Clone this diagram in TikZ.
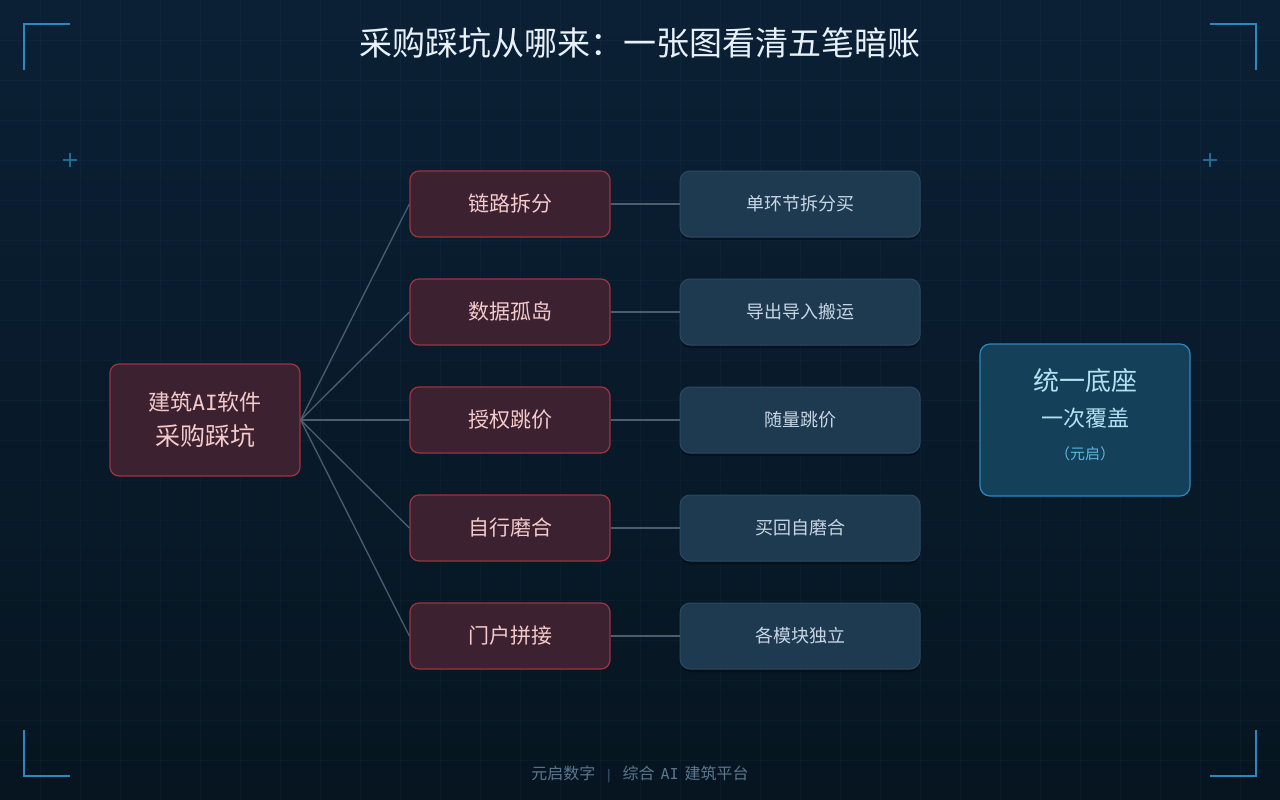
\documentclass[tikz,border=0pt]{standalone}
\usepackage{fontspec}
\setmainfont{Noto Sans CJK SC}
\newfontfamily\monoai{DejaVu Sans Mono}
\usetikzlibrary{shadows}
\definecolor{bgtop}{HTML}{0B2035}
\definecolor{bgbot}{HTML}{061520}
\definecolor{gridc}{HTML}{2A5A80}
\definecolor{cornerc}{HTML}{2A8AC0}
\definecolor{redfill}{HTML}{3C2130}
\definecolor{redline}{HTML}{A0333F}
\definecolor{redtext}{HTML}{F4CACA}
\definecolor{bluefill}{HTML}{1E3A50}
\definecolor{blueline}{HTML}{2B4A62}
\definecolor{bluetext}{HTML}{C8D6E4}
\definecolor{basefill}{HTML}{14405A}
\definecolor{basetext}{HTML}{B4E2F2}
\definecolor{basesub}{HTML}{5AB8E0}
\definecolor{linkc}{HTML}{4A5E70}
\definecolor{foot}{HTML}{5A7890}
\tikzset{
  px/.style={x=1pt,y=-1pt},
  rootbox/.style={draw=redline,fill=redfill,line width=1.2pt,rounded corners=9pt,minimum width=190pt,minimum height=112pt,inner sep=0pt},
  roottext/.style={text=redtext,inner sep=0pt},
  painbox/.style={draw=redline,fill=redfill,line width=1.2pt,rounded corners=9pt,minimum width=200pt,minimum height=66pt,text=redtext,font=\fontsize{21}{24}\selectfont,inner sep=0pt},
  effbox/.style={draw=blueline,fill=bluefill,line width=1pt,rounded corners=10pt,minimum width=240pt,minimum height=66pt,text=bluetext,font=\fontsize{18}{20}\selectfont,inner sep=0pt,drop shadow={shadow xshift=0pt,shadow yshift=-3pt,opacity=0.3,fill=black}},
  basebox/.style={draw=cornerc,fill=basefill,line width=1.2pt,rounded corners=10pt,minimum width=210pt,minimum height=152pt,inner sep=0pt},
  basetextstyle/.style={inner sep=0pt},
  link/.style={draw=linkc,line width=1.3pt},
  corner/.style={draw=cornerc,line width=2pt},
  cross/.style={draw=cornerc!70!bgtop,line width=1.5pt},
}
\begin{document}
\begin{tikzpicture}[px]
\useasboundingbox (0,0) rectangle (1280,800);
\shade[top color=bgtop,bottom color=bgbot] (0,0) rectangle (1280,800);
\foreach \i in {40,80,...,1240} \draw[gridc,opacity=0.09,line width=0.8pt] (\i,0) -- (\i,800);
\foreach \j in {40,80,...,760} \draw[gridc,opacity=0.09,line width=0.8pt] (0,\j) -- (1280,\j);
% corners
\draw[corner] (24,70) -- (24,24) -- (70,24);
\draw[corner] (1210,24) -- (1256,24) -- (1256,70);
\draw[corner] (24,730) -- (24,776) -- (70,776);
\draw[corner] (1210,776) -- (1256,776) -- (1256,730);
\draw[cross] (63,160) -- (77,160) (70,153) -- (70,167);
\draw[cross] (1203,160) -- (1217,160) (1210,153) -- (1210,167);
% title
\node[text={rgb,255:red,232;green,240;blue,248},font=\fontsize{33}{38}\selectfont] (title) at (640,43) {采购踩坑从哪来：一张图看清五笔暗账};
% root
\node[rootbox] (root) at (205,420) {};
\node[roottext,font=\fontsize{22}{26}\selectfont] (root1) at (205,402) {建筑{\monoai\fontsize{21}{26}\selectfont AI}软件};
\node[roottext,font=\fontsize{25}{28}\selectfont] (root2) at (205,436) {采购踩坑};
% pain points
\node[painbox] (p1) at (510,204) {链路拆分};
\node[painbox] (p2) at (510,312) {数据孤岛};
\node[painbox] (p3) at (510,420) {授权跳价};
\node[painbox] (p4) at (510,528) {自行磨合};
\node[painbox] (p5) at (510,636) {门户拼接};
% effects
\node[effbox] (e1) at (800,204) {\raisebox{-2pt}{单环节拆分买}};
\node[effbox] (e2) at (800,312) {\raisebox{-2pt}{导出导入搬运}};
\node[effbox] (e3) at (800,420) {\raisebox{-2pt}{随量跳价}};
\node[effbox] (e4) at (800,528) {\raisebox{-2pt}{买回自磨合}};
\node[effbox] (e5) at (800,636) {\raisebox{-2pt}{各模块独立}};
% connectors
\foreach \k in {1,...,5} {
  \draw[link] (root.east) -- (p\k.west);
  \draw[link] (p\k.east) -- (e\k.west);
}
% base
\node[basebox] (base) at (1085,420) {};
\node[basetextstyle,text=basetext,font=\fontsize{26}{30}\selectfont] (base1) at (1085,381) {统一底座};
\node[basetextstyle,text=basetext,font=\fontsize{22}{26}\selectfont] (base2) at (1085,418) {一次覆盖};
\node[basetextstyle,text=basesub,font=\fontsize{15}{18}\selectfont] (base3) at (1085,454) {（元启）};
% footer
\node[text=foot,font=\fontsize{16}{18}\selectfont] (footer) at (640,774) {元启数字\hspace{12pt}{\fontsize{12}{14}\selectfont|}\hspace{12pt}综合\hspace{6pt}{\monoai\fontsize{15}{18}\selectfont AI}\hspace{6pt}建筑平台};
\end{tikzpicture}
\end{document}
